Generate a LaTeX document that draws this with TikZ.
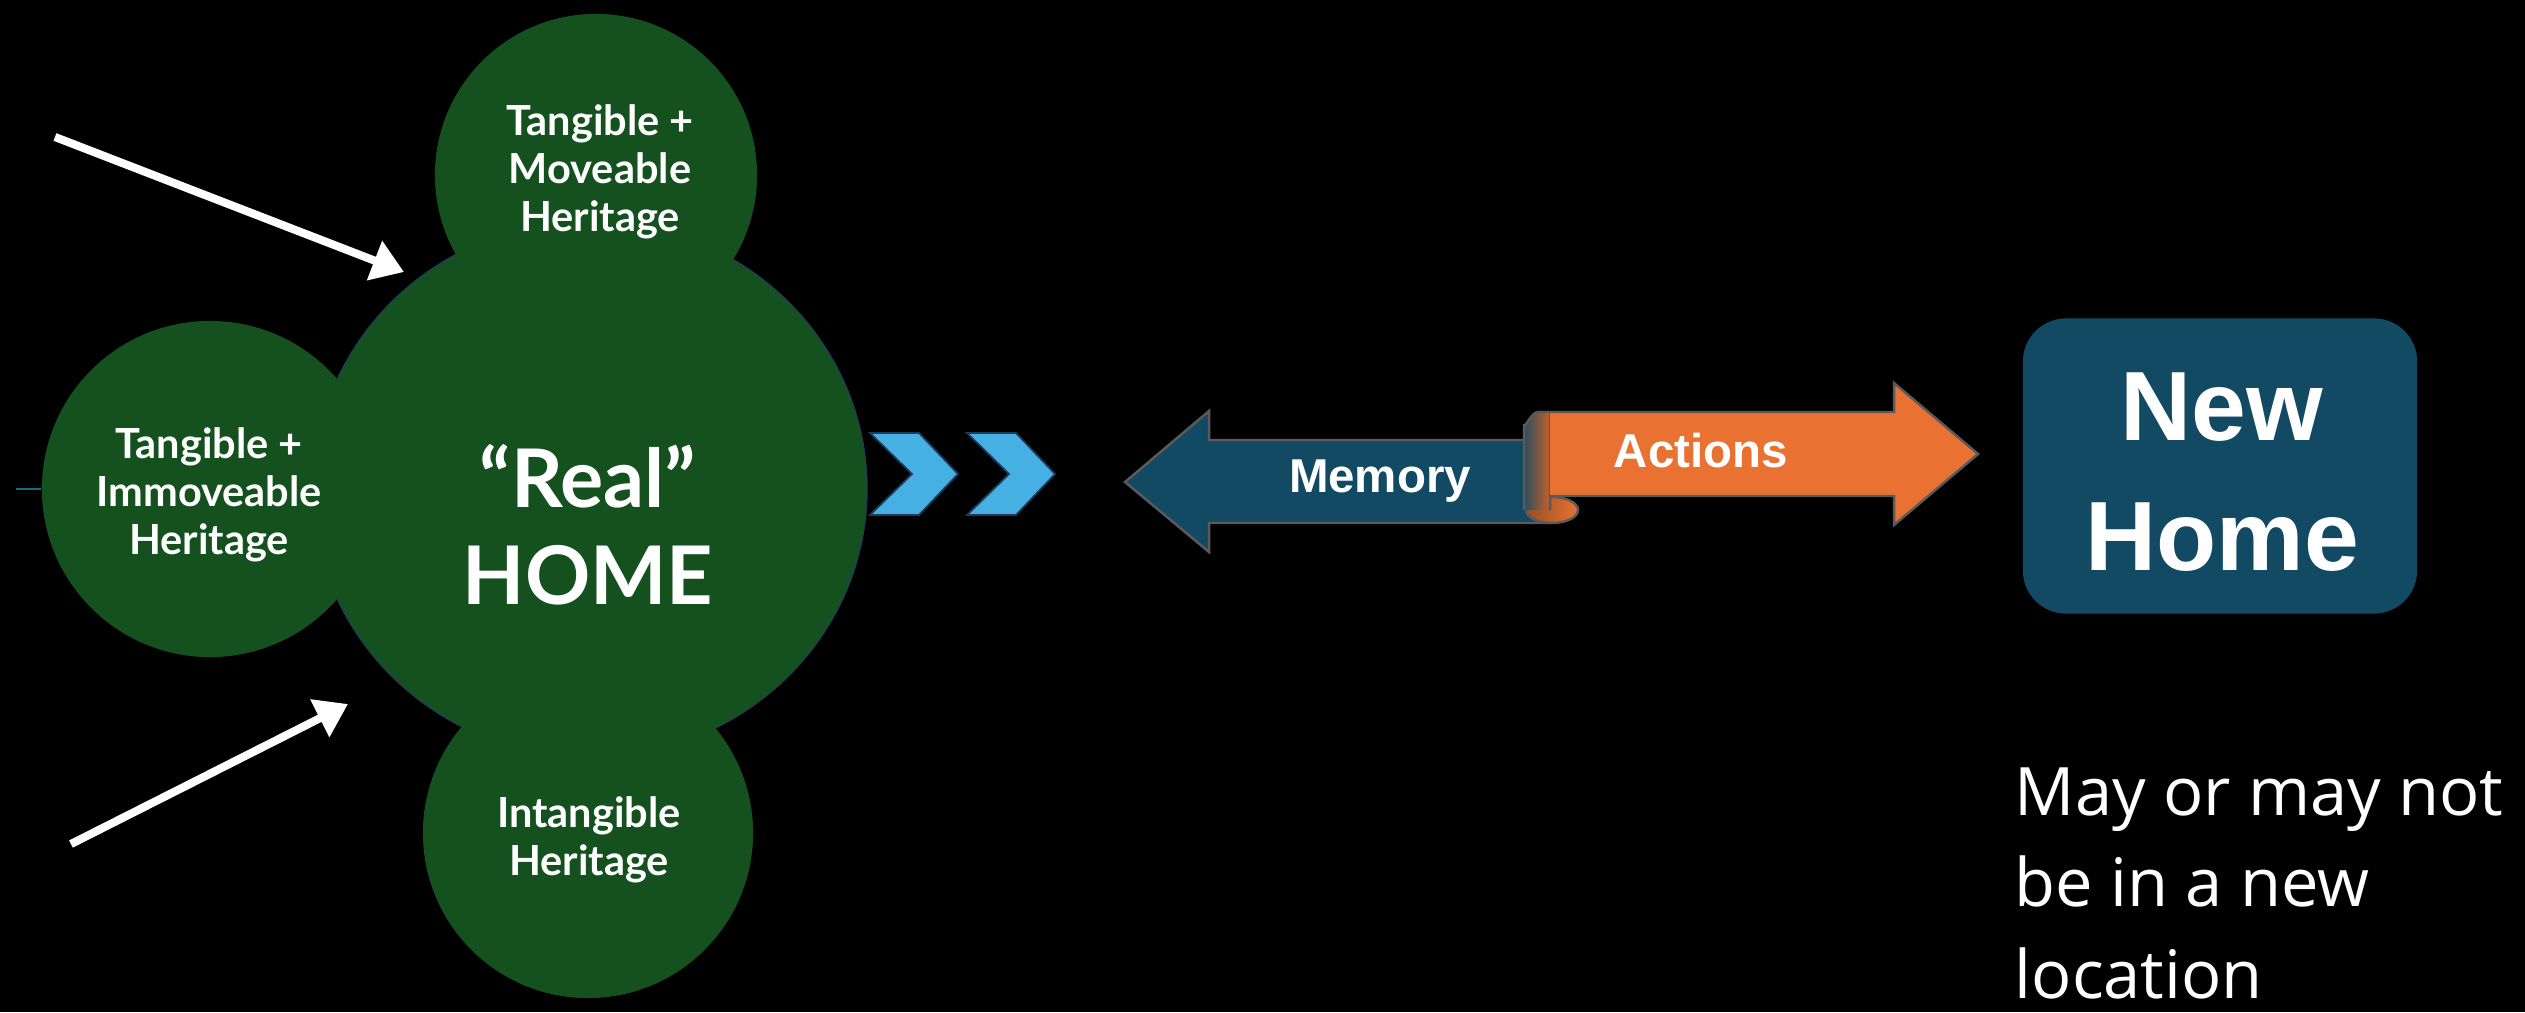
\documentclass[tikz,border=0pt]{standalone}
\usepackage{fontspec}
\setmainfont{Lato}
\newfontfamily\arialfont{Liberation Sans}
\newfontfamily\notefont{Open Sans}
\usetikzlibrary{arrows.meta,shapes.geometric}
\definecolor{hgreen}{HTML}{15511F}
\definecolor{hteal}{HTML}{134A63}
\definecolor{horange}{HTML}{E97132}
\definecolor{hchev}{HTML}{47B0E2}
\definecolor{hgray}{HTML}{5A5A5A}
\definecolor{hnavy}{HTML}{1F3A5F}
\begin{document}
\begin{tikzpicture}[x=0.01cm,y=-0.01cm,
  greencirc/.style={circle, fill=hgreen, inner sep=0pt, text=white, align=center,
    font=\fontsize{11.8}{13.6}\selectfont\bfseries},
  whitearrow/.style={draw=white, line width=2.3pt, -{Triangle[length=9pt,width=11.5pt]}},
  chev/.style={fill=hchev, draw=hnavy, line width=0.5pt},
  bandarrow/.style={draw=hgray, line width=0.7pt, line join=miter},
  bandtext/.style={text=white, font=\arialfont\bfseries\fontsize{13.5}{16}\selectfont},
]
\fill[black] (0,0) rectangle (2525,1012);
\useasboundingbox (0,0) rectangle (2525,1012);

% big circle
\node[ellipse, fill=hgreen, draw=hnavy, line width=0.3pt, inner sep=0pt,
      minimum width=5.54cm, minimum height=5.36cm] (bigc) at (590,489) {};
% small circles
\node[greencirc, minimum size=3.22cm] (topc) at (596,175) {};
\node[greencirc, minimum size=3.36cm] (leftc) at (210,489) {};
\node[greencirc, minimum size=3.30cm] (botc) at (588,833) {};
\node[greencirc] (toptxt) at (600,172) {Tangible +\\Moveable\\Heritage};
\node[greencirc] (lefttxt) at (209,495) {Tangible +\\Immoveable\\Heritage};
\node[greencirc] (bottxt) at (589,840) {Intangible\\Heritage};
\node[text=white, align=center, font=\fontsize{23}{27.5}\selectfont\bfseries]
   (realtxt) at (588,525) {“Real”\\HOME};

% small teal line at left
\coordinate (tl) at (16,489);
\draw[draw=hteal!80!cyan, line width=0.6pt] (tl) -- (leftc.west);

% white arrows
\coordinate (a1s) at (55,137);
\coordinate (a1e) at (404,272);
\coordinate (a2s) at (71,844);
\coordinate (a2e) at (348,704);
\draw[whitearrow] (a1s) -- (a1e);
\draw[whitearrow] (a2s) -- (a2e);

% chevrons
\draw[chev] (870,433) -- (919,433) -- (958,474) -- (919,515) -- (870,515) -- (912,474) -- cycle;
\draw[chev] (967,433) -- (1016,433) -- (1055,474) -- (1016,515) -- (967,515) -- (1009,474) -- cycle;

% Memory arrow (left)
\draw[bandarrow, fill=hteal] (1125,482) -- (1209,411) -- (1209,440) -- (1550,440)
   -- (1550,523) -- (1209,523) -- (1209,552) -- cycle;
\node[bandtext] (memtxt) at (1380,481) {Memory};

% Actions arrow (right)
\draw[bandarrow, fill=horange] (1540,412) -- (1894,412) -- (1894,383) -- (1978,454)
   -- (1894,525) -- (1894,496) -- (1540,496) -- cycle;
% curl
\draw[draw=hgray, line width=0.7pt, left color=horange!60!black!80!brown, right color=horange]
   (1552,510) ellipse [x radius=26, y radius=13];
\draw[draw=hgray, line width=0.7pt, left color=hteal!70!hgray, right color=horange!85!black]
   (1524,510) -- (1524,424) to[out=-90,in=180] (1538,412) -- (1550,412) -- (1550,510);
\fill[horange] (1550,413) rectangle (1552,495);
\node[bandtext] (acttxt) at (1701,451) {Actions};

% New Home box
\node[fill=hteal, rounded corners=0.43cm, minimum width=3.94cm, minimum height=2.95cm,
      inner sep=0pt, text=white, align=center,
      font=\arialfont\bfseries\fontsize{28}{37}\selectfont] (newhome) at (2220,466) {};
\node[text=white, align=center, font=\arialfont\bfseries\fontsize{28}{37}\selectfont]
      (newhometxt) at (2222,472) {New\\Home};

% note
\node[anchor=base west, align=left, text=white, inner sep=0pt,
      font=\notefont\fontsize{19}{26}\selectfont] (note) at (2014,998) {May or may not\\be in a new\\location};
\end{tikzpicture}
\end{document}
